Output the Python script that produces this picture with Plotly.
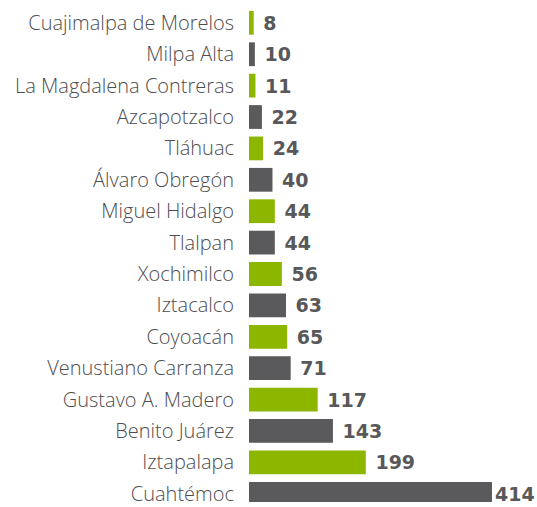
import plotly.graph_objects as go

categories = ["Cuajimalpa de Morelos", "Milpa Alta", "La Magdalena Contreras", "Azcapotzalco",
              "Tláhuac", "Álvaro Obregón", "Miguel Hidalgo", "Tlalpan", "Xochimilco",
              "Iztacalco", "Coyoacán", "Venustiano Carranza", "Gustavo A. Madero",
              "Benito Juárez", "Iztapalapa", "Cuahtémoc"]
values = [8, 10, 11, 22, 24, 40, 44, 44, 56, 63, 65, 71, 117, 143, 199, 414]

GREEN = "#8DB600"
GRAY = "#5A5A5C"
colors = [GREEN if i % 2 == 0 else GRAY for i in range(len(values))]

cats = categories[::-1]
vals = values[::-1]
cols = colors[::-1]
vmax = max(vals)
labels = [(str(v) if v == vmax else "\u00a0" + str(v)) for v in vals]

fig = go.Figure(go.Bar(
    x=vals, y=cats, orientation="h",
    marker=dict(color=cols, line=dict(width=0)),
    width=0.757,
    text=labels,
    textposition="outside",
    cliponaxis=False,
    textfont=dict(family="DejaVu Sans", size=19, color="#58585A", weight="bold"),
    hoverinfo="skip",
))

fig.update_layout(
    width=537, height=507,
    margin=dict(l=249, r=0, t=0, b=0),
    paper_bgcolor="white", plot_bgcolor="white",
    showlegend=False,
    xaxis=dict(range=[0, 490.7], visible=False),
    yaxis=dict(range=[-0.262, 15.727], showgrid=False, showline=False, zeroline=False,
               ticks="", ticklabelstandoff=14,
               tickfont=dict(family="Open Sans", size=20, color="#4E4E50", weight=300)),
)
fig.write_html("out.html", config={"displayModeBar": False},
               post_script="document.body.style.margin='0';document.body.style.overflow='hidden';")
